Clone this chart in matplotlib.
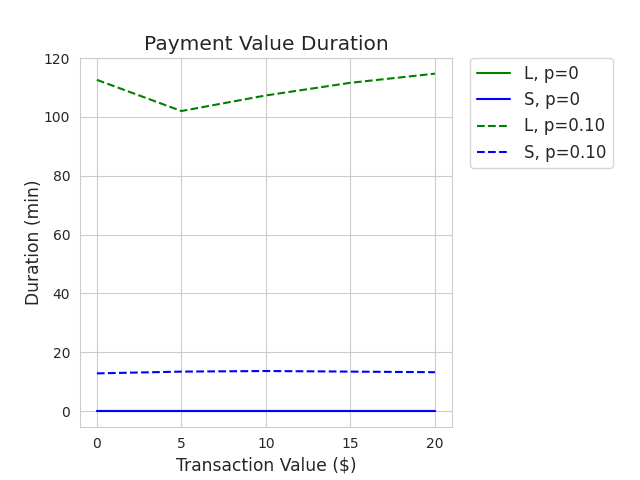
import numpy as np
import matplotlib
matplotlib.use("Agg")
import matplotlib.pyplot as plt
import seaborn as sns

sns.set_style("whitegrid")

values = [0, 5, 10, 15, 20]
l_p0 = [0.1, 0.1, 0.1, 0.1, 0.1]
s_p0 = [0.05, 0.05, 0.05, 0.05, 0.05]
l_p10 = [112.6, 102.0, 107.3, 111.6, 114.7]
s_p10 = [12.8, 13.4, 13.6, 13.4, 13.2]

fig = plt.figure(figsize=(6.4, 4.8), dpi=100)
ax = fig.add_axes([0.125, 0.11, 0.581, 0.769])

ax.plot(values, l_p0, 'g-', label='L, p=0')
ax.plot(values, s_p0, 'b-', label='S, p=0')
ax.plot(values, l_p10, 'g--', label='L, p=0.10')
ax.plot(values, s_p10, 'b--', label='S, p=0.10')

ax.set_xlim(-1, 21)
ax.set_ylim(-5.5, 120)
ax.set_xticks([0, 5, 10, 15, 20])
ax.set_yticks([0, 20, 40, 60, 80, 100, 120])
ax.set_xlabel('Transaction Value ($)', fontsize=12.3)
ax.set_ylabel('Duration (min)', fontsize=12.3, labelpad=1)
ax.set_title('Payment Value Duration', fontsize=14.5)
ax.legend(loc='upper left', bbox_to_anchor=(1.05, 1.0), borderaxespad=0,
          fontsize=12, frameon=True)

plt.savefig('out.png')
